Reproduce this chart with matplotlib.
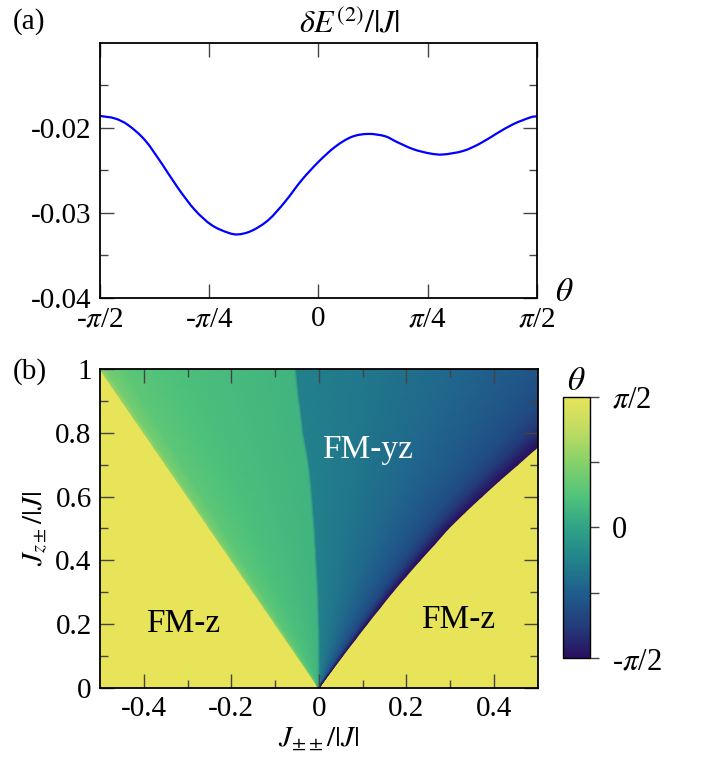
import numpy as np
import matplotlib
matplotlib.use("Agg")
import matplotlib.pyplot as plt
from matplotlib.colors import LinearSegmentedColormap
from matplotlib.path import Path
from matplotlib.patches import PathPatch

plt.rcParams['font.family'] = ['Liberation Serif', 'DejaVu Serif']
plt.rcParams['mathtext.fontset'] = 'stix'
plt.rcParams['axes.unicode_minus'] = False

# ---------------- panel (a) data ----------------
theta_over_pi = [-0.5, -0.4657, -0.4352, -0.397, -0.3588, -0.3208, -0.2826, -0.2444,
                 -0.2064, -0.1835, -0.1529, -0.1149, -0.0767, -0.0384, 0.0, 0.0378,
                 0.076, 0.114, 0.1522, 0.179, 0.217, 0.2551, 0.2856, 0.3314, 0.3696,
                 0.4078, 0.4458, 0.484, 0.5]
dE2 = [-0.01859, -0.01889, -0.01968, -0.02145, -0.02419, -0.02713, -0.02968, -0.03145,
       -0.03235, -0.03254, -0.03212, -0.03086, -0.02871, -0.02615, -0.02400, -0.02224,
       -0.02106, -0.02071, -0.02098, -0.02165, -0.02251, -0.02301, -0.02313, -0.02271,
       -0.02184, -0.02066, -0.01956, -0.01878, -0.01862]
a_xtick_pos = [-0.5, -0.25, 0.0, 0.25, 0.5]
a_xtick_labels = [r'-$\pi$/2', r'-$\pi$/4', '0', r'$\pi$/4', r'$\pi$/2']
a_yticks = [-0.04, -0.03, -0.02]
a_yminor = [-0.035, -0.025, -0.015]

# ---------------- panel (b) data ----------------
jz_rows = [0.0, 0.05, 0.1, 0.15, 0.2, 0.25, 0.3, 0.35, 0.4, 0.45, 0.5,
           0.55, 0.6, 0.65, 0.7, 0.75, 0.8, 0.85, 0.9, 0.95, 1.0]
left_boundary = [0.0, -0.025, -0.05, -0.075, -0.10, -0.125, -0.15, -0.175, -0.20, -0.225,
                 -0.25, -0.275, -0.30, -0.325, -0.35, -0.375, -0.40, -0.425, -0.45, -0.475, -0.50]
transition = [0.0, 0.0, 0.0, 0.0, -0.001, -0.002, -0.003, -0.005, -0.007, -0.009,
              -0.011, -0.014, -0.017, -0.020, -0.024, -0.030, -0.037, -0.041, -0.046, -0.050, -0.054]
right_boundary = [0.0, 0.027, 0.054, 0.082, 0.110, 0.139, 0.168, 0.199, 0.231, 0.264,
                  0.296, 0.333, 0.372, 0.412, 0.454, 0.495, 0.537, 0.578, 0.620, 0.660, 0.700]
# theta (in units of pi) across the two wedges of the FM-yz phase
left_frac = [0.0, 0.03, 0.12, 0.35, 0.7, 1.0]
left_theta = [0.28, 0.21, 0.15, 0.11, 0.085, 0.065]
right_frac = [0.0, 0.25, 0.5, 0.7, 0.82, 0.9, 0.96, 1.0]
right_theta = [-0.13, -0.17, -0.22, -0.27, -0.32, -0.38, -0.45, -0.50]

# colour map
cmap_pos = [0.0, 0.125, 0.25, 0.375, 0.5, 0.625, 0.75, 0.875, 1.0]
cmap_cols = ['#2a0f5f', '#233d7b', '#1f5d8c', '#22838b', '#2fa387',
             '#52c47a', '#86d16a', '#c0dc62', '#e8e45a']
cmap = LinearSegmentedColormap.from_list('ref', list(zip(cmap_pos, cmap_cols)))

fig = plt.figure(figsize=(7.05, 7.62), dpi=100)

FS = 21
# ---------------- panel (a) ----------------
ax1 = fig.add_axes([0.1418, 0.6093, 0.6199, 0.3343])
px = np.array(theta_over_pi) * np.pi
py = np.array(dE2)
# smooth Catmull-Rom curve through the read points, drawn as cubic Bezier path
P = np.column_stack([px, py])
Pe = np.vstack([2 * P[0] - P[1], P, 2 * P[-1] - P[-2]])
verts = [tuple(P[0])]
codes = [Path.MOVETO]
for i in range(1, len(Pe) - 2):
    p0, p1, p2, p3 = Pe[i - 1], Pe[i], Pe[i + 1], Pe[i + 2]
    c1 = p1 + (p2 - p0) / 6.0
    c2 = p2 - (p3 - p1) / 6.0
    verts += [tuple(c1), tuple(c2), tuple(p2)]
    codes += [Path.CURVE4] * 3
ax1.add_patch(PathPatch(Path(verts, codes), facecolor='none', edgecolor='#0000ff', lw=1.6))
ax1.set_xlim(-np.pi / 2, np.pi / 2)
ax1.set_ylim(-0.04, -0.01)
ax1.set_xticks(np.array(a_xtick_pos) * np.pi)
ax1.set_xticklabels(a_xtick_labels)
ax1.set_yticks(a_yticks)
ax1.set_yticklabels(['-0.04', '-0.03', '-0.02'])
ax1.set_yticks(a_yminor, minor=True)
fig.text(349.5 / 705, 1 - 24 / 762, r'$\delta E^{(2)}/|J|$', fontsize=23, ha='center', va='center')

# ---------------- panel (b) ----------------
ax2 = fig.add_axes([0.1418, 0.0975, 0.6209, 0.4179])
ax2.set_facecolor(cmap(1.0))
yr = np.array(jz_rows)
xl = np.array(left_boundary)
xt = np.array(transition)
xr = np.array(right_boundary)
lf = np.array(left_frac)
rf = np.array(right_frac)
gap = 0.003
XL = xl[:, None] + lf[None, :] * ((xt - gap) - xl)[:, None]
XR = (xt + gap)[:, None] + rf[None, :] * (xr - (xt + gap))[:, None]
X = np.hstack([XL, XR])
Y = np.repeat(yr[:, None], X.shape[1], axis=1)
C = np.hstack([np.tile(left_theta, (len(yr), 1)), np.tile(right_theta, (len(yr), 1))]) * np.pi
mesh = ax2.pcolormesh(X, Y, C, shading='gouraud', cmap=cmap,
                      vmin=-np.pi / 2, vmax=np.pi / 2, rasterized=True)
ax2.set_xlim(-0.5, 0.5)
ax2.set_ylim(0, 1)
ax2.set_xticks([-0.4, -0.2, 0, 0.2, 0.4])
ax2.set_xticklabels(['-0.4', '-0.2', '0', '0.2', '0.4'])
ax2.set_xticks([-0.3, -0.1, 0.1, 0.3], minor=True)
ax2.set_yticks([0, 0.2, 0.4, 0.6, 0.8, 1.0])
ax2.set_yticklabels(['0', '0.2', '0.4', '0.6', '0.8', '1'])
ax2.set_yticks([0.1, 0.3, 0.5, 0.7, 0.9], minor=True)
ax2.set_xlabel(r'$J_{\pm\pm}/|J|$', fontsize=FS, labelpad=2)
ax2.set_ylabel(r'$J_{z\pm}/|J|$', fontsize=FS, labelpad=4)
ax2.text(-0.309, 0.2, 'FM-z', fontsize=24, ha='center', va='center', color='black')
ax2.text(0.318, 0.213, 'FM-z', fontsize=24, ha='center', va='center', color='black')
ax2.text(0.112, 0.747, 'FM-yz', fontsize=24, ha='center', va='center', color='white')

for ax in (ax1, ax2):
    ax.tick_params(which='both', direction='in', top=True, right=True,
                   labelsize=FS, width=1.0, color='#444444')
    ax.tick_params(which='major', length=10, pad=6)
    ax.tick_params(which='minor', length=5.5)
    for s in ax.spines.values():
        s.set_linewidth(1.3)

# colorbar
cax = fig.add_axes([0.799, 0.1361, 0.0379, 0.3433])
cb = fig.colorbar(mesh, cax=cax)
cb.set_ticks([-np.pi / 2, 0, np.pi / 2])
cb.set_ticklabels([r'-$\pi$/2', '0', r'$\pi$/2'])
cax.set_yticks([-np.pi / 4, np.pi / 4], minor=True)
cax.tick_params(which='both', direction='out', labelsize=22, width=1.0, color='#444444')
cax.tick_params(which='major', length=6.5, pad=9)
cax.tick_params(which='minor', length=6.5)
cb.outline.set_linewidth(1.0)
cax.set_title(r'$\theta$', fontsize=24, pad=2)

fig.text(555 / 705, 1 - 293 / 762, r'$\theta$', fontsize=24, ha='left', va='center')
fig.text(0.018, 1 - 22 / 762, '(a)', fontsize=FS, ha='left', va='center')
fig.text(0.018, 1 - 372 / 762, '(b)', fontsize=FS, ha='left', va='center')

fig.savefig('out.png', dpi=100)
